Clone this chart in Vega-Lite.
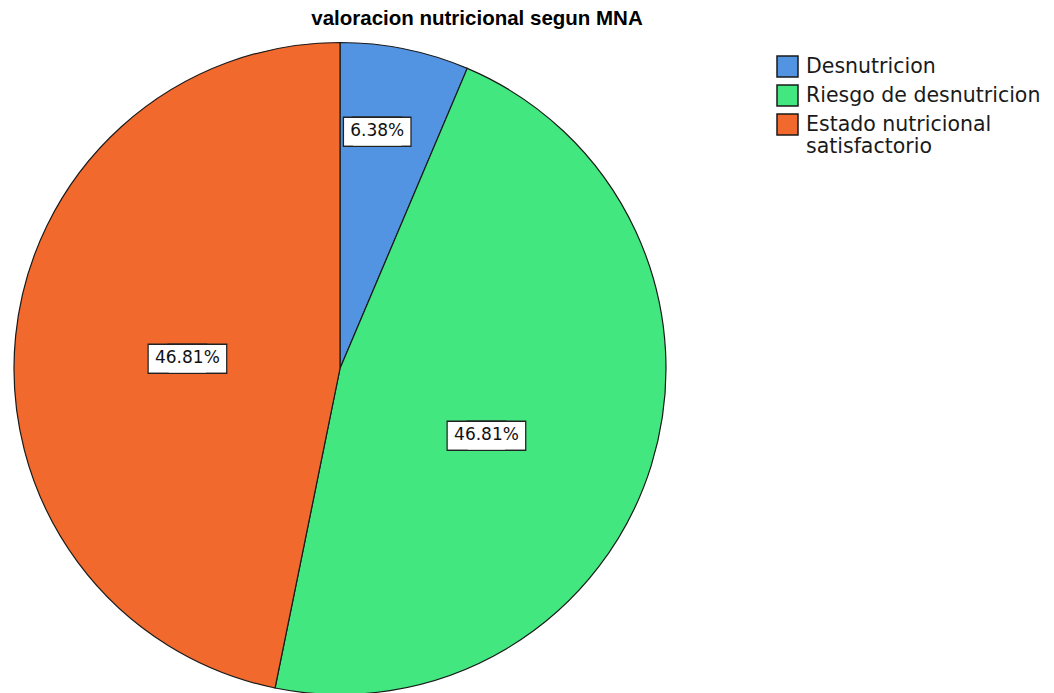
{
  "$schema": "https://vega.github.io/schema/vega-lite/v6.json",
  "width": 680,
  "height": 653,
  "autosize": {"type": "none"},
  "padding": {"left": 0, "top": 42, "right": 374, "bottom": 0},
  "background": "white",
  "config": {"view": {"stroke": null}},
  "title": {
    "text": "valoracion nutricional segun MNA",
    "font": "Liberation Sans",
    "fontSize": 20.5,
    "fontWeight": "bold",
    "color": "#000000",
    "anchor": "middle",
    "frame": "group",
    "dx": 137,
    "offset": 11
  },
  "data": {
    "values": [
      {"categoria": "Desnutricion", "n": 3, "orden": 1, "pct": "6.38%"},
      {"categoria": "Riesgo de desnutricion", "n": 22, "orden": 2, "pct": "46.81%"},
      {"categoria": "\u2007Estado nutricional|satisfactorio", "n": 22, "orden": 3, "pct": "46.81%"}
    ]
  },
  "encoding": {
    "theta": {"field": "n", "type": "quantitative", "stack": true},
    "order": {"field": "orden", "type": "quantitative"}
  },
  "layer": [
    {
      "mark": {"type": "arc", "outerRadius": 326, "stroke": "#1a1a1a", "strokeWidth": 1.2},
      "encoding": {
        "color": {
          "field": "categoria",
          "type": "nominal",
          "scale": {
            "domain": ["Desnutricion", "Riesgo de desnutricion", "\u2007Estado nutricional|satisfactorio"],
            "range": ["#5294E2", "#42E77F", "#F2692D"]
          },
          "legend": {
            "title": null,
            "orient": "none",
            "legendX": 776,
            "legendY": 13,
            "symbolType": "square",
            "symbolSize": 441,
            "symbolStrokeColor": "#1a1a1a",
            "symbolStrokeWidth": 1.5,
            "symbolOpacity": 1,
            "labelFont": "DejaVu Sans",
            "labelFontSize": 20.5,
            "labelColor": "#1a1a1a",
            "labelLimit": 0,
            "labelOffset": 7,
            "rowPadding": 2,
            "labelExpr": "split(datum.label, '|')"
          }
        }
      }
    },
    {"mark": {"type": "text", "radius": 240, "thetaOffset": -0.045, "dx": -4.5, "dy": -3, "font": "DejaVu Sans", "fontSize": 75, "fill": "white", "stroke": "#222222", "strokeWidth": 2.6, "baseline": "middle", "align": "center"},
     "encoding": {"text": {"condition": {"test": "datum.orden == 1", "value": "\u25ac"}, "value": ""}}},
    {"mark": {"type": "text", "radius": 240, "thetaOffset": -0.045, "dx": 4.5, "dy": -3, "font": "DejaVu Sans", "fontSize": 75, "fill": "white", "stroke": "#222222", "strokeWidth": 2.6, "baseline": "middle", "align": "center"},
     "encoding": {"text": {"condition": {"test": "datum.orden == 1", "value": "\u25ac"}, "value": ""}}},
    {"mark": {"type": "text", "radius": 240, "thetaOffset": -0.045, "dx": -4.5, "dy": -3, "font": "DejaVu Sans", "fontSize": 75, "fill": "white", "baseline": "middle", "align": "center"},
     "encoding": {"text": {"condition": {"test": "datum.orden == 1", "value": "\u25ac"}, "value": ""}}},
    {"mark": {"type": "text", "radius": 240, "thetaOffset": -0.045, "dx": 4.5, "dy": -3, "font": "DejaVu Sans", "fontSize": 75, "fill": "white", "baseline": "middle", "align": "center"},
     "encoding": {"text": {"condition": {"test": "datum.orden == 1", "value": "\u25ac"}, "value": ""}}},
    {"mark": {"type": "text", "radius": 240, "thetaOffset": -0.045, "font": "DejaVu Sans", "fontSize": 17, "color": "#111111", "baseline": "middle", "align": "center"},
     "encoding": {"text": {"condition": {"test": "datum.orden == 1", "field": "pct"}, "value": ""}}},

    {"mark": {"type": "text", "radius": 161, "thetaOffset": 0.127, "dx": -10, "dy": -3, "font": "DejaVu Sans", "fontSize": 75, "fill": "white", "stroke": "#222222", "strokeWidth": 2.6, "baseline": "middle", "align": "center"},
     "encoding": {"text": {"condition": {"test": "datum.orden == 2", "value": "\u25ac"}, "value": ""}}},
    {"mark": {"type": "text", "radius": 161, "thetaOffset": 0.127, "dx": 10, "dy": -3, "font": "DejaVu Sans", "fontSize": 75, "fill": "white", "stroke": "#222222", "strokeWidth": 2.6, "baseline": "middle", "align": "center"},
     "encoding": {"text": {"condition": {"test": "datum.orden == 2", "value": "\u25ac"}, "value": ""}}},
    {"mark": {"type": "text", "radius": 161, "thetaOffset": 0.127, "dx": -10, "dy": -3, "font": "DejaVu Sans", "fontSize": 75, "fill": "white", "baseline": "middle", "align": "center"},
     "encoding": {"text": {"condition": {"test": "datum.orden == 2", "value": "\u25ac"}, "value": ""}}},
    {"mark": {"type": "text", "radius": 161, "thetaOffset": 0.127, "dx": 10, "dy": -3, "font": "DejaVu Sans", "fontSize": 75, "fill": "white", "baseline": "middle", "align": "center"},
     "encoding": {"text": {"condition": {"test": "datum.orden == 2", "value": "\u25ac"}, "value": ""}}},
    {"mark": {"type": "text", "radius": 161, "thetaOffset": 0.127, "font": "DejaVu Sans", "fontSize": 17, "color": "#111111", "baseline": "middle", "align": "center"},
     "encoding": {"text": {"condition": {"test": "datum.orden == 2", "field": "pct"}, "value": ""}}},

    {"mark": {"type": "text", "radius": 153, "thetaOffset": -0.03, "dx": -10, "dy": -3, "font": "DejaVu Sans", "fontSize": 75, "fill": "white", "stroke": "#222222", "strokeWidth": 2.6, "baseline": "middle", "align": "center"},
     "encoding": {"text": {"condition": {"test": "datum.orden == 3", "value": "\u25ac"}, "value": ""}}},
    {"mark": {"type": "text", "radius": 153, "thetaOffset": -0.03, "dx": 10, "dy": -3, "font": "DejaVu Sans", "fontSize": 75, "fill": "white", "stroke": "#222222", "strokeWidth": 2.6, "baseline": "middle", "align": "center"},
     "encoding": {"text": {"condition": {"test": "datum.orden == 3", "value": "\u25ac"}, "value": ""}}},
    {"mark": {"type": "text", "radius": 153, "thetaOffset": -0.03, "dx": -10, "dy": -3, "font": "DejaVu Sans", "fontSize": 75, "fill": "white", "baseline": "middle", "align": "center"},
     "encoding": {"text": {"condition": {"test": "datum.orden == 3", "value": "\u25ac"}, "value": ""}}},
    {"mark": {"type": "text", "radius": 153, "thetaOffset": -0.03, "dx": 10, "dy": -3, "font": "DejaVu Sans", "fontSize": 75, "fill": "white", "baseline": "middle", "align": "center"},
     "encoding": {"text": {"condition": {"test": "datum.orden == 3", "value": "\u25ac"}, "value": ""}}},
    {"mark": {"type": "text", "radius": 153, "thetaOffset": -0.03, "font": "DejaVu Sans", "fontSize": 17, "color": "#111111", "baseline": "middle", "align": "center"},
     "encoding": {"text": {"condition": {"test": "datum.orden == 3", "field": "pct"}, "value": ""}}}
  ]
}
